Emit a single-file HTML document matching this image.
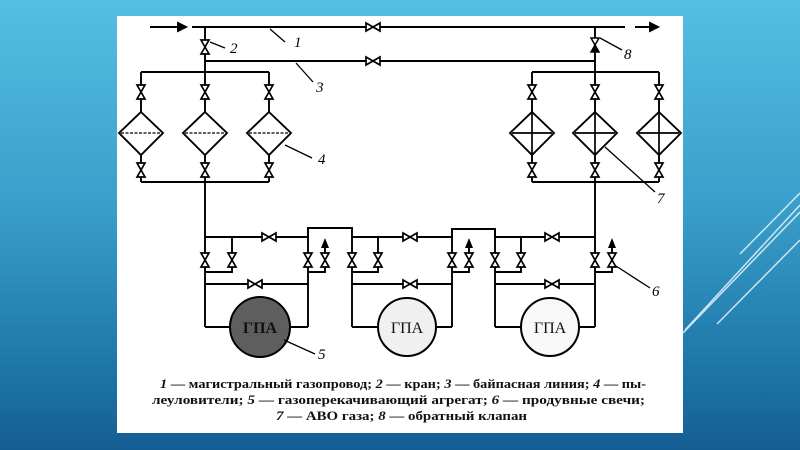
<!DOCTYPE html>
<html><head><meta charset="utf-8"><style>
html,body{margin:0;padding:0;width:800px;height:450px;overflow:hidden}
body{background:linear-gradient(180deg,#54bfe1 0%,#3a9fcb 45%,#1f78aa 80%,#145e93 100%);position:relative}
svg{position:absolute;left:0;top:0}
text{font-family:"Liberation Serif","Noto Serif CJK SC",serif}
</style></head><body>
<svg width="800" height="450" viewBox="0 0 800 450">
<defs>
<symbol id="vv" overflow="visible"><path d="M-4,-7 L4,-7 L-4,7 L4,7 Z" fill="#fff" stroke="#000" stroke-width="1.7"/></symbol>
<symbol id="vh" overflow="visible"><path d="M-7,-4 L-7,4 L7,-4 L7,4 Z" fill="#fff" stroke="#000" stroke-width="1.7"/></symbol>
</defs>
<g stroke="#e8f6fb" stroke-width="1.5" opacity="0.85">
<line x1="685" y1="330" x2="800" y2="205"/>
<line x1="683" y1="333" x2="800" y2="212"/>
<line x1="740" y1="254" x2="800" y2="193"/>
<line x1="717" y1="324" x2="800" y2="240"/>
</g>
<rect x="117" y="16" width="566" height="417" fill="#fff"/>
<g stroke="#000" stroke-width="1.9" fill="none">
<line x1="150" y1="27" x2="180" y2="27"/>
<path d="M178,23 L186,27 L178,31 Z" fill="#000"/>
<line x1="635" y1="27" x2="652" y2="27"/>
<path d="M650,23 L658,27 L650,31 Z" fill="#000"/>
<line x1="192" y1="27" x2="625" y2="27"/>
<line x1="205" y1="61" x2="595" y2="61"/>
<line x1="205" y1="27" x2="205" y2="237"/>
<line x1="595" y1="27" x2="595" y2="327"/>
<line x1="141" y1="72" x2="269" y2="72"/>
<line x1="141" y1="182" x2="269" y2="182"/>
<line x1="141" y1="72" x2="141" y2="182"/>
<line x1="269" y1="72" x2="269" y2="182"/>
<line x1="532" y1="72" x2="659" y2="72"/>
<line x1="532" y1="182" x2="659" y2="182"/>
<line x1="532" y1="72" x2="532" y2="182"/>
<line x1="659" y1="72" x2="659" y2="182"/>
</g>
<g stroke="#000" stroke-width="1.9" fill="#fff">
<path d="M141,112 L163,133 L141,155 L119,133 Z"/>
<path d="M205,112 L227,133 L205,155 L183,133 Z"/>
<path d="M269,112 L291,133 L269,155 L247,133 Z"/>
<path d="M532,112 L554,133 L532,155 L510,133 Z"/>
<path d="M595,112 L617,133 L595,155 L573,133 Z"/>
<path d="M659,112 L681,133 L659,155 L637,133 Z"/>
</g>
<g stroke="#000" stroke-width="1.3" stroke-dasharray="3,1.5">
<line x1="121" y1="133" x2="161" y2="133"/><line x1="185" y1="133" x2="225" y2="133"/><line x1="249" y1="133" x2="289" y2="133"/>
</g>
<g stroke="#000" stroke-width="1.7">
<line x1="512" y1="133" x2="552" y2="133"/><line x1="532" y1="112" x2="532" y2="155"/>
<line x1="575" y1="133" x2="615" y2="133"/><line x1="595" y1="112" x2="595" y2="155"/>
<line x1="639" y1="133" x2="679" y2="133"/><line x1="659" y1="112" x2="659" y2="155"/>
</g>
<g stroke="#000" stroke-width="1.9" fill="none">
<path d="M205,237 H308 V228 H352 V237 H452 V229 H495 V237 H595"/>
<line x1="308" y1="228" x2="308" y2="327"/>
<line x1="352" y1="237" x2="352" y2="327"/>
<line x1="452" y1="229" x2="452" y2="327"/>
<line x1="495" y1="229" x2="495" y2="327"/>
<line x1="205" y1="237" x2="205" y2="327"/>
<path d="M232,237 V272 H205"/><path d="M378,237 V272 H352"/><path d="M521,237 V272 H495"/>
<path d="M325,245 V272 H308"/><path d="M469,245 V272 H452"/><path d="M612,245 V272 H595"/>
<line x1="205" y1="284" x2="308" y2="284"/><line x1="352" y1="284" x2="452" y2="284"/><line x1="495" y1="284" x2="595" y2="284"/>
<line x1="205" y1="327" x2="308" y2="327"/><line x1="352" y1="327" x2="452" y2="327"/><line x1="495" y1="327" x2="595" y2="327"/>
</g>
<g fill="#000"><path d="M321,248 L325,238 L329,248 Z"/><path d="M465,248 L469,238 L473,248 Z"/><path d="M608,248 L612,238 L616,248 Z"/></g>
<circle cx="260" cy="327" r="30" fill="#5e5e5e" stroke="#000" stroke-width="2"/>
<circle cx="407" cy="327" r="29" fill="#f0f0f0" stroke="#000" stroke-width="2"/>
<circle cx="550" cy="327" r="29" fill="#f8f8f8" stroke="#000" stroke-width="2"/>
<text x="260" y="333" font-size="16" text-anchor="middle" fill="#111" font-weight="bold">ГПА</text>
<text x="407" y="333" font-size="16" text-anchor="middle" fill="#111">ГПА</text>
<text x="550" y="333" font-size="16" text-anchor="middle" fill="#111">ГПА</text>
<use href="#vh" x="373" y="27"/><use href="#vh" x="373" y="61"/>
<use href="#vv" x="205" y="47"/>
<use href="#vv" x="141" y="92"/><use href="#vv" x="205" y="92"/><use href="#vv" x="269" y="92"/>
<use href="#vv" x="141" y="170"/><use href="#vv" x="205" y="170"/><use href="#vv" x="269" y="170"/>
<use href="#vv" x="532" y="92"/><use href="#vv" x="595" y="92"/><use href="#vv" x="659" y="92"/>
<use href="#vv" x="532" y="170"/><use href="#vv" x="595" y="170"/><use href="#vv" x="659" y="170"/>
<path d="M591,38 L599,38 L595,45 Z" fill="#fff" stroke="#000" stroke-width="1.5"/>
<path d="M591,52 L599,52 L595,45 Z" fill="#000" stroke="#000" stroke-width="1.5"/>
<use href="#vh" x="269" y="237"/><use href="#vh" x="410" y="237"/><use href="#vh" x="552" y="237"/>
<use href="#vh" x="255" y="284"/><use href="#vh" x="410" y="284"/><use href="#vh" x="552" y="284"/>
<use href="#vv" x="205" y="260"/><use href="#vv" x="232" y="260"/><use href="#vv" x="308" y="260"/><use href="#vv" x="325" y="260"/>
<use href="#vv" x="352" y="260"/><use href="#vv" x="378" y="260"/><use href="#vv" x="452" y="260"/><use href="#vv" x="469" y="260"/>
<use href="#vv" x="495" y="260"/><use href="#vv" x="521" y="260"/><use href="#vv" x="595" y="260"/><use href="#vv" x="612" y="260"/>
<g stroke="#000" stroke-width="1.3">
<line x1="270" y1="29" x2="285" y2="42"/>
<line x1="210" y1="42" x2="225" y2="48"/>
<line x1="296" y1="63" x2="313" y2="82"/>
<line x1="285" y1="145" x2="312" y2="158"/>
<line x1="284" y1="340" x2="315" y2="354"/>
<line x1="616" y1="266" x2="650" y2="288"/>
<line x1="605" y1="147" x2="655" y2="192"/>
<line x1="600" y1="38" x2="622" y2="50"/>
</g>
<g font-size="15" font-style="italic" fill="#000">
<text x="294" y="47">1</text><text x="230" y="53">2</text><text x="316" y="92">3</text>
<text x="318" y="164">4</text><text x="318" y="359">5</text><text x="652" y="296">6</text>
<text x="657" y="203">7</text><text x="624" y="59">8</text>
</g>
<g font-size="12.5" font-weight="bold" fill="#111">
<text x="160" y="388" textLength="486" lengthAdjust="spacingAndGlyphs"><tspan font-style="italic">1</tspan> — магистральный газопровод; <tspan font-style="italic">2</tspan> — кран; <tspan font-style="italic">3</tspan> — байпасная линия; <tspan font-style="italic">4</tspan> — пы-</text>
<text x="152" y="404" textLength="493" lengthAdjust="spacingAndGlyphs">леуловители; <tspan font-style="italic">5</tspan> — газоперекачивающий агрегат; <tspan font-style="italic">6</tspan> — продувные свечи;</text>
<text x="276" y="420" textLength="251" lengthAdjust="spacingAndGlyphs"><tspan font-style="italic">7</tspan> — АВО газа; <tspan font-style="italic">8</tspan> — обратный клапан</text>
</g>
</svg>
</body></html>
